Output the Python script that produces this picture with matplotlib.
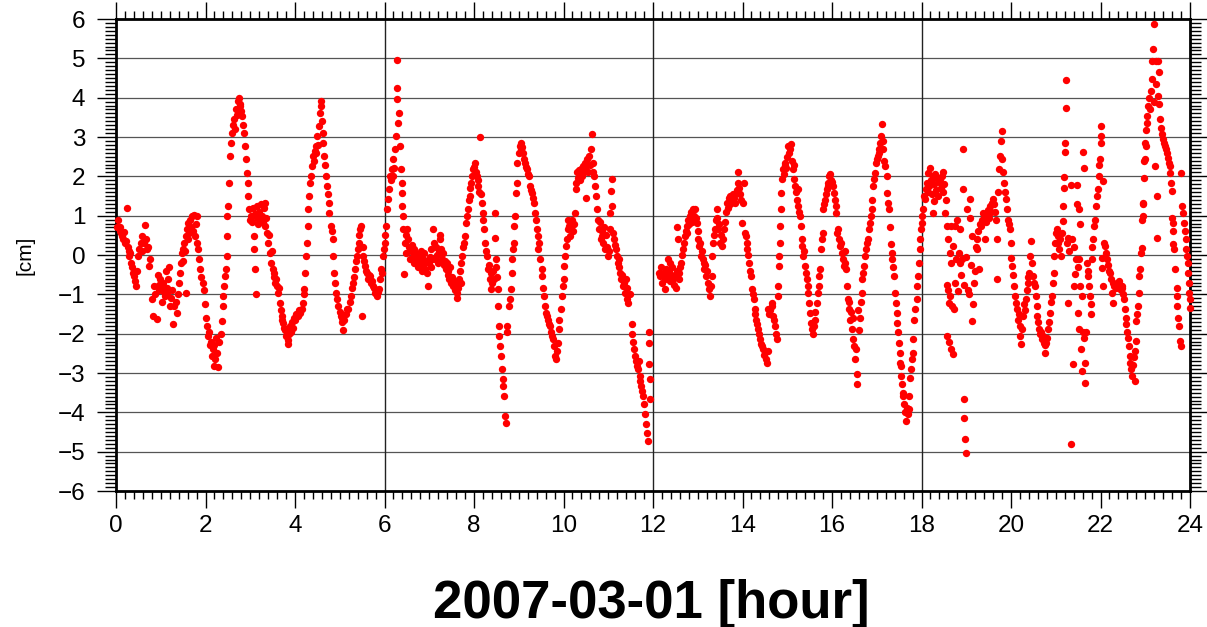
import matplotlib.pyplot as plt
import numpy as np
from matplotlib.ticker import MultipleLocator

plt.rcParams['font.family'] = ['Liberation Sans', 'DejaVu Sans']

# (hour, cm) pairs, one list per 3 hours
seg_00_03 = [(0.02,0.72),(0.05,0.89),(0.08,0.62),(0.10,0.70),(0.12,0.55),(0.14,0.48),(0.16,0.40),(0.18,0.58),(0.20,0.30),(0.22,0.35),(0.24,1.19),(0.26,0.21),(0.28,0.10),(0.30,-0.03),(0.32,0.05),(0.34,-0.20),(0.36,-0.30),(0.38,-0.45),(0.40,-0.53),(0.42,-0.65),(0.45,-0.79),(0.47,-0.40),(0.49,-0.03),(0.52,0.14),(0.55,0.31),(0.57,0.10),(0.59,0.48),(0.62,0.30),(0.65,0.76),(0.67,0.40),(0.69,0.14),(0.71,0.20),(0.74,-0.28),(0.76,-0.10),(0.80,-1.13),(0.82,-1.55),(0.86,-0.80),(0.88,-1.00),(0.91,-1.62),(0.93,-0.50),(0.95,-0.75),(0.97,-0.90),(0.99,-0.60),(1.01,-0.85),(1.03,-1.20),(1.05,-0.70),(1.07,-0.95),(1.09,-1.05),(1.11,-0.40),(1.13,-0.85),(1.15,-1.00),(1.17,-0.60),(1.19,-0.30),(1.21,-1.30),(1.23,-1.10),(1.25,-0.90),(1.28,-1.76),(1.30,-1.30),(1.33,-1.20),(1.36,-1.47),(1.39,-1.00),(1.41,-0.70),(1.43,-0.45),(1.45,-0.20),(1.47,0.05),(1.49,-0.15),(1.50,0.14),(1.52,0.31),(1.54,0.10),(1.56,0.48),(1.57,-0.96),(1.58,0.65),(1.60,0.40),(1.62,0.82),(1.64,0.55),(1.66,0.90),(1.68,0.70),(1.70,0.99),(1.72,0.60),(1.74,1.02),(1.76,0.48),(1.78,0.80),(1.80,0.30),(1.82,1.00),(1.84,0.14),(1.86,-0.10),(1.88,-0.36),(1.91,-0.55),(1.94,-0.70),(1.97,-0.90),(1.99,-1.25),(2.01,-1.60),(2.04,-1.80),(2.06,-2.06),(2.08,-1.95),(2.10,-2.30),(2.12,-2.20),(2.14,-2.57),(2.16,-2.40),(2.18,-2.82),(2.20,-2.30),(2.22,-2.65),(2.24,-2.10),(2.26,-2.50),(2.29,-2.86),(2.31,-2.20),(2.34,-2.00),(2.36,-1.68),(2.38,-1.30),(2.40,-1.04),(2.42,-0.79),(2.44,-0.53),(2.46,-0.36),(2.47,-0.03),(2.48,0.48),(2.49,0.99),(2.51,1.25),(2.53,1.84),(2.55,2.52),(2.57,2.86),(2.59,3.10),(2.62,3.30),(2.64,3.45),(2.66,3.20),(2.68,3.70),(2.70,3.55),(2.72,3.92),(2.74,4.00),(2.76,3.85),(2.78,3.80),(2.80,3.65),(2.82,3.53),(2.84,3.30),(2.86,3.10),(2.88,2.77),(2.90,2.43),(2.92,2.09),(2.94,1.84),(2.96,1.50),(2.98,1.16),(3.00,0.90)]

seg_03_06 = [(3.02,1.00),(3.04,0.85),(3.06,1.20),(3.08,0.48),(3.09,0.14),(3.10,1.05),(3.11,-0.36),(3.13,-1.00),(3.14,0.95),(3.16,1.25),(3.18,0.80),(3.20,1.10),(3.22,0.90),(3.24,1.30),(3.26,1.00),(3.28,0.85),(3.30,1.20),(3.32,1.33),(3.34,0.74),(3.36,0.95),(3.38,0.57),(3.40,0.31),(3.42,0.50),(3.44,0.06),(3.46,-0.20),(3.48,0.10),(3.50,-0.35),(3.52,-0.45),(3.54,-0.55),(3.56,-0.70),(3.58,-0.60),(3.60,-0.79),(3.62,-0.96),(3.64,-0.85),(3.66,-1.21),(3.68,-1.40),(3.70,-1.55),(3.72,-1.65),(3.74,-1.72),(3.76,-1.85),(3.78,-1.90),(3.80,-2.06),(3.82,-1.95),(3.84,-2.15),(3.85,-2.27),(3.87,-2.00),(3.89,-1.80),(3.91,-1.97),(3.93,-1.70),(3.95,-1.85),(3.97,-1.60),(4.00,-1.64),(4.03,-1.50),(4.06,-1.55),(4.09,-1.40),(4.12,-1.47),(4.15,-1.38),(4.17,-1.21),(4.19,-1.00),(4.21,-0.87),(4.22,-0.45),(4.24,-0.03),(4.26,0.31),(4.28,0.74),(4.30,1.16),(4.32,1.50),(4.34,1.84),(4.36,2.00),(4.38,2.26),(4.40,2.52),(4.42,2.40),(4.44,2.65),(4.46,2.77),(4.48,2.60),(4.50,3.03),(4.52,2.80),(4.54,3.28),(4.56,3.62),(4.57,3.80),(4.58,3.92),(4.60,3.40),(4.62,3.10),(4.63,2.86),(4.65,2.52),(4.67,2.30),(4.69,2.00),(4.71,1.75),(4.73,1.55),(4.75,1.33),(4.77,1.08),(4.80,0.74),(4.82,0.60),(4.84,0.40),(4.86,-0.03),(4.87,-0.45),(4.89,-0.70),(4.91,-0.96),(4.94,-1.13),(4.97,-1.30),(5.00,-1.45),(5.02,-1.55),(5.04,-1.70),(5.06,-1.60),(5.08,-1.90),(5.10,-1.64),(5.13,-1.50),(5.16,-1.38),(5.19,-1.38),(5.22,-1.20),(5.25,-1.04),(5.28,-0.85),(5.30,-0.70),(5.32,-0.55),(5.34,-0.36),(5.36,-0.15),(5.38,-0.03),(5.40,0.15),(5.42,0.31),(5.44,0.50),(5.46,0.65),(5.48,0.74),(5.50,-1.55),(5.51,0.20),(5.53,-0.03),(5.55,-0.15),(5.57,-0.28),(5.59,-0.40),(5.61,-0.45),(5.63,-0.60),(5.65,-0.50),(5.68,-0.53),(5.70,-0.70),(5.72,-0.65),(5.75,-0.79),(5.77,-0.85),(5.79,-0.96),(5.81,-0.90),(5.84,-1.04),(5.86,-0.95),(5.88,-0.87),(5.90,-0.60),(5.92,-0.36),(5.94,-0.45),(5.96,-0.03),(5.98,0.14),(6.00,0.31)]

seg_06_09 = [(6.02,0.50),(6.04,0.74),(6.06,1.16),(6.08,1.42),(6.10,1.67),(6.12,2.00),(6.14,1.90),(6.16,2.18),(6.18,2.00),(6.20,2.43),(6.22,2.20),(6.24,2.69),(6.26,3.03),(6.27,3.96),(6.28,4.25),(6.29,4.97),(6.31,3.36),(6.33,3.62),(6.35,2.77),(6.36,2.18),(6.38,1.84),(6.39,1.58),(6.40,1.25),(6.41,0.99),(6.42,0.65),(6.43,-0.49),(6.45,0.31),(6.47,0.50),(6.49,0.06),(6.51,0.65),(6.53,0.40),(6.55,0.20),(6.57,-0.10),(6.59,0.10),(6.61,0.25),(6.63,-0.05),(6.65,0.14),(6.67,-0.20),(6.69,0.05),(6.71,-0.15),(6.73,0.00),(6.75,-0.30),(6.77,-0.05),(6.79,-0.20),(6.81,0.10),(6.83,-0.40),(6.85,-0.10),(6.87,-0.25),(6.89,0.05),(6.91,-0.35),(6.93,-0.15),(6.95,-0.45),(6.97,-0.80),(6.99,-0.20),(7.01,-0.05),(7.03,-0.30),(7.05,0.15),(7.07,-0.10),(7.09,0.65),(7.11,0.30),(7.13,-0.10),(7.15,0.20),(7.17,0.00),(7.19,-0.20),(7.21,0.10),(7.23,0.40),(7.25,0.50),(7.27,0.15),(7.29,-0.10),(7.31,0.05),(7.33,-0.25),(7.35,-0.15),(7.37,-0.35),(7.39,-0.20),(7.41,-0.50),(7.43,-0.40),(7.45,-0.60),(7.47,-0.30),(7.49,-0.70),(7.51,-0.55),(7.53,-0.80),(7.55,-0.65),(7.57,-0.90),(7.59,-0.75),(7.61,-0.96),(7.63,-1.10),(7.65,-0.85),(7.67,-0.60),(7.69,-0.40),(7.71,-0.70),(7.72,-0.20),(7.74,-0.03),(7.76,0.20),(7.78,0.30),(7.80,0.48),(7.82,0.82),(7.84,1.00),(7.86,1.16),(7.88,1.40),(7.90,1.50),(7.92,1.70),(7.94,1.84),(7.96,2.00),(7.98,2.18),(8.00,2.25),(8.02,2.35),(8.04,2.10),(8.06,2.00),(8.08,1.90),(8.10,1.75),(8.12,1.60),(8.13,3.00),(8.15,1.54),(8.17,1.33),(8.19,1.08),(8.21,0.90),(8.23,0.65),(8.25,0.31),(8.27,0.10),(8.29,-0.03),(8.31,-0.36),(8.33,-0.25),(8.35,-0.62),(8.37,-0.45),(8.39,-0.87),(8.41,-0.70),(8.43,-0.40),(8.45,-0.60),(8.47,1.08),(8.48,0.44),(8.49,-0.10),(8.50,-0.30),(8.51,-0.55),(8.53,-0.87),(8.54,-1.30),(8.55,-1.80),(8.56,-2.06),(8.58,-2.31),(8.60,-2.57),(8.62,-2.90),(8.64,-3.16),(8.65,-3.33),(8.67,-3.58),(8.70,-4.09),(8.72,-4.26),(8.73,-1.80),(8.74,-1.95),(8.78,-1.30),(8.81,-1.13),(8.83,-0.87),(8.84,-0.45),(8.86,-0.11),(8.88,0.14),(8.89,0.31),(8.90,0.74),(8.92,0.99),(8.93,1.58),(8.95,1.84),(8.97,2.35),(9.00,2.60)]

seg_09_12 = [(9.02,2.77),(9.04,2.86),(9.06,2.69),(9.08,2.75),(9.10,2.60),(9.12,2.45),(9.14,2.35),(9.16,2.25),(9.18,2.18),(9.20,2.05),(9.22,2.00),(9.25,1.75),(9.27,1.65),(9.29,1.58),(9.31,1.45),(9.33,1.33),(9.36,1.08),(9.38,0.90),(9.40,0.65),(9.42,0.48),(9.44,0.14),(9.46,0.30),(9.48,-0.11),(9.51,-0.36),(9.53,-0.53),(9.55,-0.83),(9.57,-1.04),(9.59,-1.30),(9.62,-1.47),(9.64,-1.55),(9.66,-1.64),(9.68,-1.75),(9.70,-1.80),(9.72,-1.97),(9.74,-2.05),(9.77,-2.14),(9.79,-2.31),(9.81,-2.57),(9.83,-2.65),(9.85,-2.45),(9.87,-2.23),(9.89,-1.89),(9.91,-1.64),(9.94,-1.38),(9.96,-1.04),(9.99,-0.79),(10.01,-0.62),(10.02,-0.28),(10.04,-0.03),(10.05,0.22),(10.07,0.40),(10.09,0.65),(10.11,0.90),(10.13,0.75),(10.15,0.48),(10.17,0.70),(10.19,0.90),(10.21,0.60),(10.23,0.80),(10.25,1.07),(10.27,1.67),(10.29,1.84),(10.31,2.10),(10.33,1.95),(10.35,2.15),(10.37,1.90),(10.39,2.18),(10.41,2.00),(10.43,2.26),(10.45,2.10),(10.47,2.35),(10.49,2.20),(10.51,1.46),(10.53,2.43),(10.55,2.10),(10.57,2.52),(10.59,2.30),(10.61,2.69),(10.63,3.07),(10.65,2.35),(10.67,2.10),(10.69,2.00),(10.71,1.75),(10.73,1.50),(10.75,1.16),(10.77,0.90),(10.79,0.65),(10.81,0.85),(10.83,0.40),(10.85,0.60),(10.87,0.48),(10.89,0.31),(10.91,0.70),(10.93,0.14),(10.95,0.50),(10.97,0.20),(10.99,-0.03),(11.01,0.10),(11.03,0.65),(11.05,1.08),(11.07,1.63),(11.08,1.92),(11.09,1.25),(11.11,0.57),(11.13,0.40),(11.15,0.25),(11.17,0.14),(11.19,-0.03),(11.21,-0.20),(11.23,-0.10),(11.25,-0.30),(11.27,-0.45),(11.29,-0.62),(11.31,-0.50),(11.33,-0.79),(11.35,-0.70),(11.37,-0.96),(11.39,-0.60),(11.41,-1.13),(11.43,-0.85),(11.45,-1.21),(11.48,-1.00),(11.52,-1.76),(11.54,-2.00),(11.56,-2.20),(11.58,-2.40),(11.60,-2.57),(11.62,-2.70),(11.64,-2.82),(11.66,-2.90),(11.68,-2.70),(11.70,-3.08),(11.72,-3.20),(11.74,-3.33),(11.76,-3.45),(11.78,-3.58),(11.80,-3.80),(11.82,-4.05),(11.84,-4.30),(11.86,-4.52),(11.88,-4.73),(11.90,-1.97),(11.91,-2.23),(11.92,-2.78),(11.93,-3.16),(11.94,-3.67)]

seg_12_15 = [(12.14,-0.45),(12.16,-0.53),(12.18,-0.30),(12.20,-0.70),(12.22,-0.50),(12.24,-0.45),(12.26,-0.60),(12.27,-0.87),(12.29,-0.35),(12.31,-0.55),(12.33,-0.11),(12.35,-0.40),(12.37,-0.65),(12.39,-0.20),(12.41,-0.50),(12.43,-0.30),(12.45,-0.62),(12.47,-0.75),(12.49,-0.50),(12.51,-0.83),(12.53,-0.40),(12.54,0.70),(12.55,0.40),(12.57,-0.60),(12.59,-0.45),(12.61,-0.30),(12.63,-0.20),(12.65,0.00),(12.67,0.14),(12.69,0.30),(12.71,0.48),(12.73,0.60),(12.75,0.74),(12.77,0.55),(12.79,0.90),(12.81,0.80),(12.83,0.99),(12.86,1.10),(12.88,0.85),(12.90,1.16),(12.92,1.00),(12.94,1.18),(12.96,0.95),(12.98,0.82),(13.00,0.60),(13.01,0.40),(13.03,0.22),(13.05,0.30),(13.07,-0.03),(13.09,0.10),(13.11,-0.10),(13.13,-0.20),(13.15,-0.36),(13.17,-0.25),(13.19,-0.53),(13.21,-0.40),(13.23,-0.70),(13.25,-0.87),(13.27,-1.04),(13.29,-0.80),(13.31,-0.53),(13.32,-0.03),(13.34,0.31),(13.36,0.50),(13.38,0.65),(13.40,0.90),(13.42,1.16),(13.44,0.95),(13.46,0.65),(13.48,0.80),(13.50,0.31),(13.52,0.50),(13.55,0.22),(13.57,0.40),(13.59,0.65),(13.61,0.85),(13.63,1.10),(13.65,1.33),(13.67,1.20),(13.69,1.45),(13.71,1.30),(13.73,1.50),(13.75,1.40),(13.77,1.35),(13.79,1.55),(13.81,1.45),(13.83,1.33),(13.85,1.58),(13.87,1.65),(13.89,1.84),(13.91,2.11),(13.93,1.70),(13.95,1.55),(13.97,1.40),(13.99,0.82),(14.01,1.33),(14.03,1.84),(14.05,0.55),(14.07,0.48),(14.09,0.31),(14.11,0.14),(14.13,0.00),(14.15,-0.20),(14.17,-0.40),(14.19,-0.53),(14.21,-0.87),(14.23,-1.00),(14.25,-1.13),(14.27,-1.38),(14.29,-1.50),(14.31,-1.64),(14.33,-1.75),(14.35,-1.89),(14.37,-2.00),(14.39,-2.14),(14.41,-2.25),(14.43,-2.31),(14.46,-2.40),(14.49,-2.55),(14.52,-2.65),(14.54,-2.74),(14.56,-2.45),(14.58,-1.38),(14.60,-1.50),(14.62,-1.40),(14.65,-1.21),(14.67,-1.30),(14.69,-1.55),(14.71,-1.65),(14.73,-1.80),(14.75,-2.00),(14.77,-2.14),(14.79,-1.04),(14.80,-0.79),(14.81,-0.28),(14.82,-0.03),(14.83,0.31),(14.84,0.74),(14.86,1.16),(14.87,1.58),(14.88,1.92),(14.90,2.18),(14.92,2.05),(14.94,2.30),(14.96,2.35),(14.98,2.20),(15.00,2.50)]

seg_15_18 = [(15.02,2.77),(15.04,2.60),(15.06,2.69),(15.08,2.81),(15.10,2.40),(15.12,2.18),(15.14,2.30),(15.16,1.92),(15.17,1.75),(15.19,1.60),(15.21,1.41),(15.23,1.67),(15.25,1.25),(15.27,1.10),(15.29,0.99),(15.30,0.74),(15.32,0.40),(15.34,0.22),(15.36,-0.03),(15.38,0.10),(15.40,-0.28),(15.42,-0.45),(15.44,-0.62),(15.46,-0.80),(15.47,-0.96),(15.49,-1.21),(15.51,-1.47),(15.53,-1.72),(15.55,-1.89),(15.57,-2.02),(15.59,-1.80),(15.61,-1.64),(15.63,-1.45),(15.66,-1.21),(15.68,-0.96),(15.70,-0.79),(15.72,-0.53),(15.73,-0.36),(15.75,0.14),(15.77,0.40),(15.79,0.57),(15.81,1.16),(15.83,1.30),(15.85,1.41),(15.87,1.55),(15.88,1.67),(15.90,1.84),(15.92,1.75),(15.94,2.00),(15.96,2.05),(15.98,1.90),(16.00,1.85),(16.03,1.75),(16.05,1.58),(16.07,1.41),(16.09,1.25),(16.10,1.07),(16.12,0.57),(16.14,0.65),(16.16,0.40),(16.18,0.22),(16.20,0.30),(16.22,0.06),(16.24,-0.11),(16.26,-0.28),(16.28,0.10),(16.30,-0.20),(16.32,-0.36),(16.33,-0.79),(16.35,-1.13),(16.37,-1.38),(16.39,-1.20),(16.40,-1.64),(16.42,-1.45),(16.44,-1.89),(16.46,-1.60),(16.48,-2.14),(16.50,-2.31),(16.51,-2.65),(16.53,-2.40),(16.55,-3.03),(16.56,-3.29),(16.58,-1.40),(16.60,-1.90),(16.62,-1.60),(16.64,-1.20),(16.66,-0.96),(16.68,-0.62),(16.70,-0.45),(16.72,-0.28),(16.74,-0.03),(16.76,0.14),(16.78,0.30),(16.81,0.40),(16.83,0.65),(16.85,0.82),(16.87,0.99),(16.89,1.16),(16.90,1.41),(16.92,1.75),(16.94,1.92),(16.96,2.09),(16.98,2.35),(17.00,2.45),(17.02,2.52),(17.04,2.69),(17.06,2.60),(17.08,2.86),(17.10,3.03),(17.12,3.32),(17.14,2.90),(17.15,2.69),(17.17,2.40),(17.19,2.26),(17.22,2.00),(17.24,1.58),(17.26,1.33),(17.28,1.16),(17.30,0.70),(17.32,0.27),(17.33,0.06),(17.35,-0.11),(17.37,-0.30),(17.39,-0.53),(17.41,-0.96),(17.43,-1.21),(17.45,-1.47),(17.46,-1.72),(17.48,-1.97),(17.50,-2.23),(17.51,-2.48),(17.52,-2.74),(17.54,-2.82),(17.55,-3.08),(17.56,-3.29),(17.58,-3.50),(17.59,-3.58),(17.61,-3.80),(17.63,-4.00),(17.65,-4.22),(17.67,-3.90),(17.69,-4.05),(17.71,-3.92),(17.73,-3.58),(17.74,-3.12),(17.76,-2.90),(17.78,-2.65),(17.80,-2.48),(17.82,-2.14),(17.84,-1.64),(17.86,-1.38),(17.89,-1.13),(17.91,-0.79),(17.93,-0.53),(17.94,-0.20),(17.96,0.14),(17.97,0.40),(17.99,0.65),(18.00,0.82)]

seg_18_21 = [(18.02,0.99),(18.04,1.16),(18.06,1.50),(18.08,1.42),(18.10,1.67),(18.12,1.84),(18.14,1.60),(18.15,2.09),(18.17,1.75),(18.19,2.22),(18.21,1.90),(18.23,1.55),(18.25,2.00),(18.26,1.07),(18.27,1.37),(18.29,1.80),(18.31,2.05),(18.33,1.65),(18.35,1.95),(18.37,1.50),(18.39,1.85),(18.41,1.92),(18.43,1.70),(18.45,2.00),(18.47,1.60),(18.49,2.10),(18.51,1.80),(18.53,1.07),(18.54,1.40),(18.56,0.74),(18.57,-0.75),(18.58,-2.06),(18.59,0.40),(18.60,-0.90),(18.61,-1.21),(18.62,-2.20),(18.63,-1.04),(18.64,0.06),(18.65,-2.40),(18.66,0.74),(18.67,-0.20),(18.68,-1.30),(18.70,-2.52),(18.71,0.22),(18.72,-1.38),(18.74,-0.70),(18.75,0.74),(18.77,-0.10),(18.79,0.90),(18.81,-0.92),(18.83,0.06),(18.85,-0.20),(18.86,0.65),(18.88,-0.50),(18.90,-0.10),(18.92,1.67),(18.93,2.69),(18.94,-3.67),(18.95,-0.75),(18.96,-4.14),(18.97,-4.69),(18.99,-5.03),(19.00,-0.05),(19.02,1.16),(19.04,-0.90),(19.06,-1.00),(19.08,1.42),(19.09,0.95),(19.10,-0.25),(19.12,-1.68),(19.13,0.48),(19.15,-1.25),(19.17,-0.70),(19.19,-0.40),(19.21,0.20),(19.23,0.40),(19.25,0.14),(19.27,0.60),(19.29,-0.36),(19.31,0.80),(19.34,0.74),(19.36,0.90),(19.38,1.07),(19.40,0.95),(19.42,0.40),(19.44,0.85),(19.46,1.00),(19.48,1.15),(19.50,0.95),(19.53,1.24),(19.55,1.10),(19.57,1.33),(19.60,1.42),(19.62,1.30),(19.64,1.10),(19.66,0.90),(19.68,-0.62),(19.69,0.40),(19.71,1.60),(19.73,2.18),(19.75,2.52),(19.77,2.90),(19.79,3.15),(19.81,2.43),(19.83,2.10),(19.85,1.84),(19.87,1.60),(19.89,1.42),(19.91,1.16),(19.93,0.90),(19.95,0.80),(19.97,0.65),(19.99,0.31),(20.01,-0.07),(20.03,-0.28),(20.05,-0.50),(20.07,-0.79),(20.09,-1.04),(20.11,-1.21),(20.13,-1.38),(20.15,-1.64),(20.17,-1.50),(20.19,-1.80),(20.21,-2.06),(20.23,-2.27),(20.25,-1.89),(20.27,-1.55),(20.29,-1.25),(20.31,-1.40),(20.33,-1.13),(20.35,-0.90),(20.37,-0.70),(20.39,-0.55),(20.41,-0.45),(20.43,-0.03),(20.45,0.36),(20.47,-0.20),(20.49,-0.53),(20.51,-0.70),(20.53,-0.79),(20.55,-1.04),(20.57,-1.30),(20.59,-1.55),(20.61,-1.70),(20.63,-1.89),(20.65,-2.02),(20.67,-1.95),(20.69,-2.14),(20.71,-2.05),(20.73,-2.23),(20.75,-2.48),(20.77,-2.30),(20.79,-2.23),(20.81,-2.10),(20.83,-1.89),(20.85,-1.70),(20.87,-1.47),(20.89,-1.20),(20.91,-1.04),(20.93,-0.70),(20.95,-0.45),(20.97,-0.03),(20.99,0.31),(21.00,0.57)]

seg_21_24 = [(21.02,0.65),(21.04,0.48),(21.06,0.31),(21.08,0.14),(21.10,0.40),(21.12,-0.03),(21.14,0.55),(21.16,0.86),(21.17,1.25),(21.18,1.71),(21.19,1.99),(21.20,2.63),(21.21,2.86),(21.22,3.73),(21.23,4.45),(21.25,0.30),(21.27,0.44),(21.28,-1.21),(21.30,0.10),(21.33,1.78),(21.35,-4.80),(21.37,0.40),(21.39,-2.78),(21.40,-0.79),(21.41,0.20),(21.43,-0.49),(21.45,-0.10),(21.47,1.77),(21.48,1.29),(21.49,-0.30),(21.50,-1.47),(21.51,-0.11),(21.52,1.16),(21.53,-1.89),(21.54,0.78),(21.55,-0.79),(21.57,-2.40),(21.58,-1.04),(21.59,-2.95),(21.61,-1.97),(21.62,2.62),(21.63,2.22),(21.64,-2.10),(21.65,-3.25),(21.66,-2.74),(21.67,-1.97),(21.69,-0.20),(21.71,-0.41),(21.73,-0.53),(21.75,-0.79),(21.77,-1.04),(21.78,-1.25),(21.79,-1.50),(21.80,-0.11),(21.82,0.20),(21.84,0.40),(21.86,0.74),(21.88,0.90),(21.90,1.25),(21.92,1.50),(21.94,1.67),(21.96,2.00),(21.97,2.30),(21.98,2.43),(22.00,2.86),(22.01,3.03),(22.02,3.28),(22.03,-0.07),(22.04,-0.32),(22.05,-0.79),(22.06,1.88),(22.08,0.30),(22.10,0.22),(22.12,0.06),(22.14,-0.11),(22.16,-0.25),(22.18,-0.40),(22.21,-0.45),(22.23,-0.62),(22.25,-0.96),(22.27,-0.70),(22.29,-1.21),(22.31,-0.80),(22.33,-0.75),(22.35,-0.85),(22.37,-0.70),(22.39,-0.80),(22.41,-0.65),(22.43,-0.75),(22.45,-0.90),(22.47,-0.79),(22.49,-0.85),(22.51,-1.00),(22.53,-1.13),(22.55,-1.38),(22.56,-1.59),(22.58,-1.76),(22.60,-1.97),(22.62,-2.10),(22.64,-2.31),(22.66,-2.57),(22.67,-2.74),(22.68,-2.90),(22.70,-3.08),(22.72,-2.80),(22.74,-2.60),(22.76,-3.20),(22.77,-2.44),(22.79,-2.19),(22.80,-1.68),(22.81,-1.50),(22.83,-1.30),(22.85,-0.96),(22.87,-0.53),(22.88,-0.36),(22.90,0.06),(22.92,0.19),(22.93,0.90),(22.94,1.33),(22.95,0.99),(22.96,1.29),(22.97,1.97),(22.98,2.39),(22.99,2.86),(23.00,2.43),(23.01,2.77),(23.02,3.19),(23.03,3.36),(23.05,3.53),(23.07,3.79),(23.09,4.00),(23.11,3.70),(23.13,4.17),(23.14,4.47),(23.15,4.93),(23.17,5.23),(23.19,3.90),(23.20,5.88),(23.22,2.26),(23.23,4.93),(23.25,4.34),(23.26,0.44),(23.27,1.50),(23.28,4.04),(23.29,4.93),(23.30,4.64),(23.31,3.83),(23.33,3.45),(23.35,3.24),(23.37,3.07),(23.40,2.94),(23.42,2.85),(23.44,2.77),(23.46,2.70),(23.48,2.60),(23.50,2.47),(23.52,2.35),(23.55,2.26),(23.56,2.09),(23.57,1.84),(23.59,1.63),(23.60,0.95),(23.61,0.82),(23.62,0.61),(23.63,0.27),(23.65,0.14),(23.67,-0.36),(23.70,-0.83),(23.71,-1.04),(23.72,-1.30),(23.74,-1.59),(23.76,-1.80),(23.78,-2.19),(23.79,-2.31),(23.81,2.08),(23.82,1.25),(23.84,1.07),(23.86,0.82),(23.89,0.61),(23.90,0.40),(23.92,0.14),(23.93,-0.03),(23.95,-0.20),(23.96,-0.45),(23.97,-0.70),(23.98,-0.96),(23.99,-1.13),(24.00,-1.34)]

pts = np.array(seg_00_03 + seg_03_06 + seg_06_09 + seg_09_12 +
               seg_12_15 + seg_15_18 + seg_18_21 + seg_21_24)
hours = pts[:, 0]
cm = pts[:, 1]

fig = plt.figure(figsize=(12.07, 6.27), dpi=100)
ax = fig.add_axes([116/1207, 1 - 491/627, 1074/1207, 472/627])

for y in range(-5, 6):
    ax.axhline(y, color='#555555', lw=0.9, zorder=1)
for x in (6, 12, 18):
    ax.axvline(x, color='#222222', lw=1.0, zorder=1)

ax.plot(hours, cm, 'o', ms=5.3, color='red', mec='none', zorder=3, clip_on=False)

ax.set_xlim(0, 24)
ax.set_ylim(-6, 6)
ax.xaxis.set_major_locator(MultipleLocator(2))
ax.xaxis.set_minor_locator(MultipleLocator(0.2))
ax.yaxis.set_major_locator(MultipleLocator(1))
ax.yaxis.set_minor_locator(MultipleLocator(0.1))

ax.tick_params(which='both', direction='out', top=True, right=True,
               labeltop=False, labelright=False, width=1.0, color='black')
ax.tick_params(axis='y', which='major', length=14, pad=8, labelsize=17.5)
ax.tick_params(axis='y', which='minor', length=8)
ax.tick_params(axis='x', which='major', length=12, pad=5, labelsize=17.5)
ax.tick_params(axis='x', which='minor', length=6)
for s in ax.spines.values():
    s.set_linewidth(2.0)

fig.text(25/1207, 1 - 255/627, '[cm]', rotation=90, ha='center', va='center', fontsize=15)
fig.text(651/1207, 1 - 618/627, '2007-03-01 [hour]', ha='center', va='baseline',
         fontsize=38, fontweight='bold')

fig.savefig('out.png', dpi=100)
